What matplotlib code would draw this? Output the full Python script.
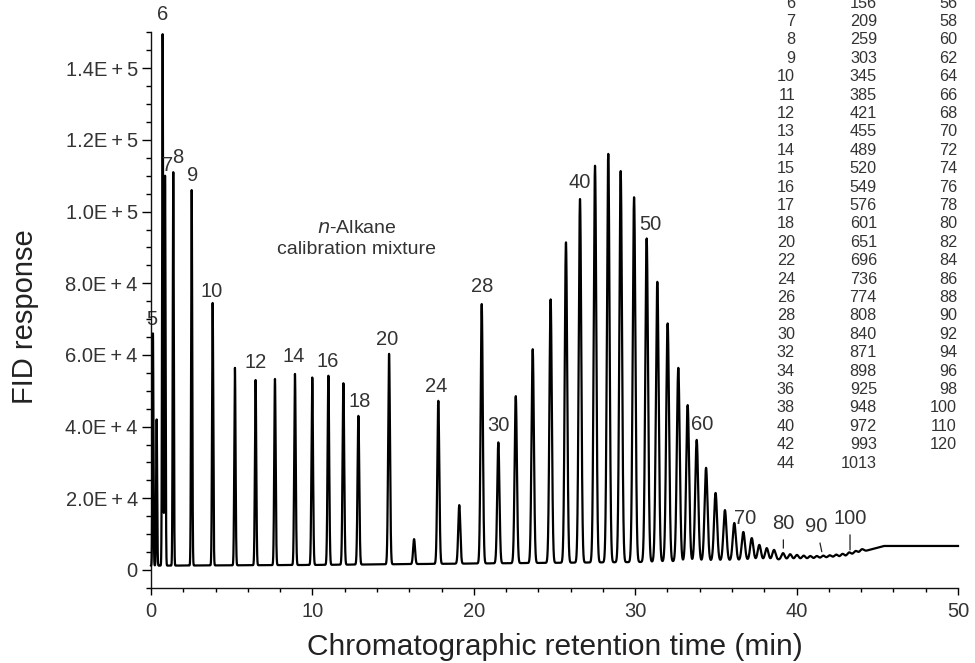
import numpy as np
import matplotlib
matplotlib.use("Agg")
import matplotlib.pyplot as plt
from matplotlib.ticker import MultipleLocator, FuncFormatter

plt.rcParams['font.family'] = ['Liberation Sans', 'DejaVu Sans']

# ---------------- data ----------------
# retention time (min) of each n-alkane peak and its apex FID response
peak_carbon = [5, 0, 6, 7, 8, 9, 10, 11, 12, 13, 14, 15, 16, 17, 18, 20, 22, 24, 26, 28,
               30, 32, 34, 36, 38, 40, 42, 44, 46, 48, 50, 52, 54, 56, 58, 60, 62, 64,
               66, 68, 70, 72, 74, 76, 78, 80, 82, 84, 86, 88, 90, 92, 94, 96, 98, 100,
               102, 104]
peak_time = [0.12, 0.35, 0.72, 0.87, 1.38, 2.52, 3.82, 5.20, 6.48, 7.68, 8.92, 9.99, 10.99,
             11.92, 12.85, 14.75, 16.30, 17.80, 19.10, 20.49, 21.52, 22.60, 23.65, 24.76,
             25.71, 26.58, 27.51, 28.33, 29.10, 29.93, 30.71, 31.37, 32.01, 32.67, 33.25,
             33.81, 34.39, 34.98, 35.56, 36.14, 36.70, 37.22, 37.69, 38.15, 38.60, 39.16,
             39.60, 40.02, 40.44, 40.85, 41.25, 41.65, 42.05, 42.45, 42.85, 43.25, 43.65,
             44.05]
peak_top = [66000, 42000, 149500, 110000, 111000, 106000, 74500, 56400, 53000, 53300,
            54700, 53700, 54200, 52100, 43000, 60300, 8600, 47200, 18100, 74200, 35600,
            48500, 61600, 75500, 91400, 103500, 112800, 116100, 111300, 104000, 92500,
            80400, 68800, 56400, 46000, 36300, 28500, 21500, 16700, 13100, 10600, 8900,
            7000, 6100, 5600, 4700, 4400, 4200, 4000, 3900, 3900, 4000, 4100, 4300, 4500,
            4900, 5300, 5800]

# baseline (column bleed) knots
base_time = [0, 10, 20, 30, 38, 41, 43, 44.5, 45.4, 50]
base_level = [1200, 1400, 1800, 2200, 2800, 3100, 3700, 5600, 6700, 6700]

# peak labels: text, time, response
label_text = ['5', '6', '7', '8', '9', '10', '12', '14', '16', '18', '20', '24', '28',
              '30', '40', '50', '60', '70']
label_time = [0.05, 0.70, 1.05, 1.67, 2.55, 3.76, 6.50, 8.86, 10.97, 12.95, 14.64, 17.66,
              20.49, 21.52, 26.54, 30.92, 34.12, 36.80]
label_resp = [70000, 155000, 113000, 115000, 110000, 77700, 57800, 59500, 58100, 47000,
              64200, 51100, 79000, 40300, 108000, 96300, 40500, 14400]

# labels with leader lines in the tail
lead_text = ['80', '90', '100']
lead_text_time = [39.18, 41.24, 43.31]
lead_text_resp = [13000, 12100, 14400]
lead_tip_time = [39.18, 41.56, 43.31]
lead_tip_resp = [6100, 5100, 5600]

# boiling point table: carbon number, b.p., carbon number
table_c1 = [6, 7, 8, 9, 10, 11, 12, 13, 14, 15, 16, 17, 18, 20, 22, 24, 26, 28, 30, 32,
            34, 36, 38, 40, 42, 44]
table_bp = [156, 209, 259, 303, 345, 385, 421, 455, 489, 520, 549, 576, 601, 651, 696,
            736, 774, 808, 840, 871, 898, 925, 948, 972, 993, 1013]
table_c2 = [56, 58, 60, 62, 64, 66, 68, 70, 72, 74, 76, 78, 80, 82, 84, 86, 88, 90, 92,
            94, 96, 98, 100, 110, 120]

# ---------------- build trace ----------------
t = np.linspace(0, 50, 25001)
base = np.interp(t, base_time, base_level)
signal = base.copy()
for pt, top in zip(peak_time, peak_top):
    sig = 0.03 + 0.0018 * pt
    amp = top - np.interp(pt, base_time, base_level)
    signal += amp * np.exp(-0.5 * ((t - pt) / sig) ** 2)

W, H = 975, 663
fig = plt.figure(figsize=(W / 100, H / 100), dpi=100)
ax = fig.add_axes([151 / W, (H - 587.9) / H, (958 - 151) / W, (587.9 - 32.4) / H])

ax.plot(t, signal, color='black', lw=1.6, zorder=3, clip_on=False)
ax.set_xlim(0, 50)
ax.set_ylim(-5000, 150000)

for s in ['top', 'right']:
    ax.spines[s].set_visible(False)
for s in ['left', 'bottom']:
    ax.spines[s].set_linewidth(1.0)
    ax.spines[s].set_color('#111111')

ax.xaxis.set_major_locator(MultipleLocator(10))
ax.xaxis.set_minor_locator(MultipleLocator(2))
ax.yaxis.set_major_locator(MultipleLocator(20000))
ax.yaxis.set_minor_locator(MultipleLocator(5000))


def yfmt(v, pos):
    if abs(v) < 1:
        return '0'
    e = int(np.floor(np.log10(abs(v))))
    return f"{v / 10 ** e:.1f}E\u2009+\u2009{e}"


ax.yaxis.set_major_formatter(FuncFormatter(yfmt))
ax.tick_params(axis='y', which='major', direction='out', length=6.5, width=1,
               labelsize=14.5, pad=3, labelcolor='#333333')
ax.tick_params(axis='y', which='minor', direction='out', length=3.5, width=1)
ax.tick_params(axis='x', which='major', direction='out', length=5, width=1,
               labelsize=14.5, pad=5, labelcolor='#333333')
ax.tick_params(axis='x', which='minor', direction='out', length=3, width=1)

ax.set_xlabel('Chromatographic retention time (min)', fontsize=21.5, color='#222222',
              labelpad=9)
ax.set_ylabel('FID response', fontsize=21, color='#222222')
ax.yaxis.set_label_coords(-0.139, 0.489)

for txt, lt, lr in zip(label_text, label_time, label_resp):
    ax.text(lt, lr, txt, ha='center', va='center', fontsize=14.5, color='#333333',
            zorder=1 if txt == '5' else 4, clip_on=False)

for txt, tt, tr, pt_, pr in zip(lead_text, lead_text_time, lead_text_resp,
                                lead_tip_time, lead_tip_resp):
    ax.annotate(txt, xy=(pt_, pr), xytext=(tt, tr), ha='center', va='center',
                fontsize=14.5, color='#333333',
                arrowprops=dict(arrowstyle='-', lw=0.9, color='#222222',
                                shrinkA=3, shrinkB=0))

ax.text(12.76, 95400, r'$\it{n}$-Alkane', ha='center', va='center', fontsize=14,
        color='#333333')
ax.text(12.76, 89300, 'calibration mixture', ha='center', va='center', fontsize=14,
        color='#333333')

col_x = [795, 877, 957]
for i in range(len(table_c1)):
    ypx = 3 + i * 18.4
    yf = 1 - ypx / H
    fig.text(col_x[0] / W, yf, str(table_c1[i]), ha='right', va='center', fontsize=11.7,
             color='#333333')
    fig.text(col_x[1] / W, yf, str(table_bp[i]), ha='right', va='center', fontsize=11.7,
             color='#333333')
    if i < len(table_c2):
        fig.text(col_x[2] / W, yf, str(table_c2[i]), ha='right', va='center',
                 fontsize=11.7, color='#333333')

fig.savefig('out.png', dpi=100)
